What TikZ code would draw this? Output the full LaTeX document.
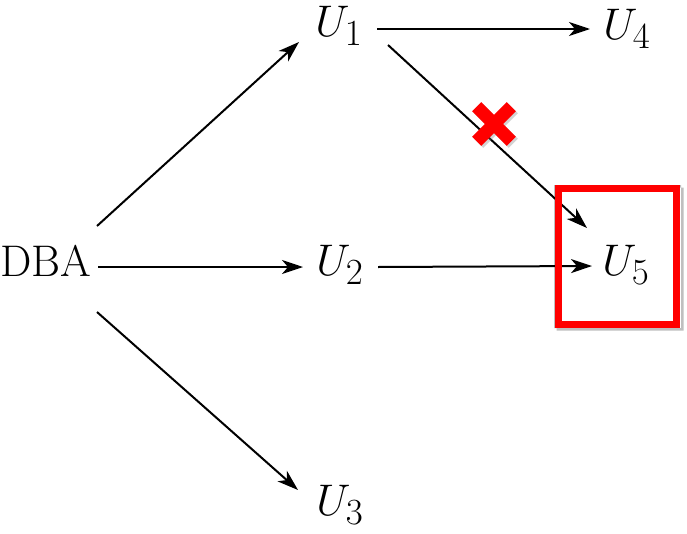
\documentclass[tikz,border=0pt]{standalone}
\usetikzlibrary{arrows.meta,shadows}
\begin{document}
\begin{tikzpicture}[x=1pt,y=-1pt,
  lbl/.style={inner sep=0pt,font=\Huge,scale=1.78},
  arr/.style={line width=2pt,-{Stealth[length=21pt,width=14pt,inset=6pt]}},
  redbox/.style={draw=red,line width=7pt,inner sep=0pt,minimum width=118pt,minimum height=136pt},
  boxshadow/.style={fill=black,fill opacity=0.25,even odd rule},
  redcross/.style={fill=red,drop shadow={opacity=0.35,shadow xshift=2pt,shadow yshift=-2pt}}]
\useasboundingbox (0,0) rectangle (687,533);
\node[lbl] (dba) at (46,261) {DBA};
\node[lbl] (u1) at (339,26) {$U_1$};
\node[lbl] (u2) at (340,265) {$U_2$};
\node[lbl] (u3) at (340,505) {$U_3$};
\node[lbl] (u4) at (627,29) {$U_4$};
\node[lbl] (u5) at (626,265) {$U_5$};
\draw[arr] ([shift={(51,-35)}]dba.center) -- ([shift={(-40,16)}]u1.center);
\draw[arr] ([shift={(52,6)}]dba.center) -- ([shift={(-37,2)}]u2.center);
\draw[arr] ([shift={(51,51)}]dba.center) -- ([shift={(-42,-15)}]u3.center);
\draw[arr] ([shift={(38,3)}]u1.center) -- ([shift={(-37,0)}]u4.center);
\draw[arr] ([shift={(49,19)}]u1.center) -- ([shift={(-39,-37)}]u5.center);
\draw[arr] ([shift={(38,2)}]u2.center) -- ([shift={(-34,1)}]u5.center);
\fill[boxshadow] (556.5,187.5) rectangle (683.5,330.5) (554,185) rectangle (681,328);
\node[redbox] (box) at (617.5,256.5) {};
\coordinate (xc) at (494,124);
\fill[redcross,shift={(xc)},rotate=45]
  (6.5,24.5) -- (6.5,6.5) -- (24.5,6.5) -- (24.5,-6.5) -- (6.5,-6.5) -- (6.5,-24.5)
  -- (-6.5,-24.5) -- (-6.5,-6.5) -- (-24.5,-6.5) -- (-24.5,6.5) -- (-6.5,6.5) -- (-6.5,24.5) -- cycle;
\end{tikzpicture}
\end{document}
